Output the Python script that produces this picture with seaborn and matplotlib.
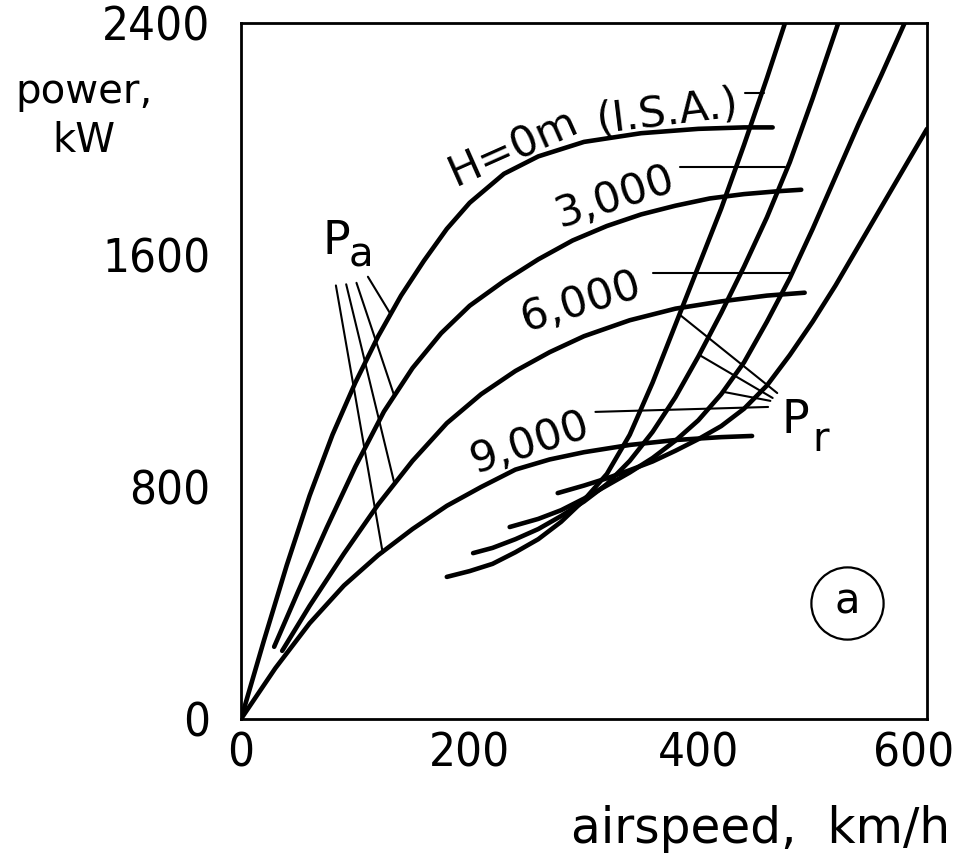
import matplotlib
matplotlib.use("Agg")
import matplotlib.pyplot as plt
import matplotlib.transforms as mtransforms
import pandas as pd
import seaborn as sns

# Available power P_a (kW) against airspeed (km/h), one curve per altitude
pa_0_v = [0, 20, 40, 60, 80, 100, 120, 140, 160, 180, 200, 230, 260, 300, 350, 400, 440, 465]
pa_0_p = [0, 270, 530, 770, 980, 1160, 1320, 1460, 1580, 1690, 1780, 1880, 1940, 1990, 2020, 2035, 2040, 2040]
pa_3000_v = [29, 50, 75, 100, 125, 150, 175, 200, 230, 260, 290, 320, 350, 380, 410, 440, 470, 490]
pa_3000_p = [249, 440, 660, 870, 1060, 1210, 1330, 1425, 1510, 1585, 1650, 1700, 1740, 1770, 1795, 1810, 1820, 1825]
pa_6000_v = [36, 60, 90, 120, 150, 180, 210, 240, 270, 300, 340, 380, 420, 460, 493]
pa_6000_p = [235, 390, 570, 740, 890, 1020, 1120, 1200, 1265, 1320, 1375, 1415, 1440, 1460, 1470]
pa_9000_v = [0, 30, 60, 90, 120, 150, 180, 210, 240, 270, 300, 340, 380, 420, 447]
pa_9000_p = [0, 175, 330, 460, 565, 655, 735, 800, 860, 895, 920, 945, 962, 972, 976]

# Required power P_r (kW) against airspeed (km/h), one curve per altitude
pr_0_v = [180, 200, 220, 240, 260, 280, 300, 320, 340, 360, 380, 400, 420, 440, 460, 480]
pr_0_p = [490, 510, 535, 575, 620, 680, 755, 845, 980, 1160, 1360, 1560, 1760, 1980, 2210, 2450]
pr_3000_v = [203, 220, 240, 260, 280, 300, 320, 340, 360, 380, 400, 420, 440, 460, 480, 500, 525]
pr_3000_p = [572, 590, 620, 655, 700, 750, 810, 890, 990, 1110, 1250, 1400, 1560, 1730, 1920, 2140, 2430]
pr_6000_v = [235, 260, 280, 300, 320, 340, 360, 380, 400, 420, 440, 460, 480, 500, 520, 540, 560, 585]
pr_6000_p = [662, 690, 720, 760, 805, 850, 900, 960, 1030, 1120, 1230, 1370, 1520, 1690, 1870, 2050, 2220, 2440]
pr_9000_v = [277, 300, 320, 340, 360, 380, 400, 420, 440, 460, 480, 500, 520, 540, 560, 580, 600]
pr_9000_p = [779, 805, 830, 858, 888, 925, 965, 1010, 1070, 1150, 1255, 1370, 1495, 1630, 1765, 1900, 2035]

# Leader lines: (v0, p0, v1, p1)
pa_leaders = [(83, 1495, 124, 572), (92, 1499, 134, 815), (101, 1504, 134, 1115), (111, 1525, 131, 1395)]
pr_leaders = [(385, 1390, 469, 1124), (401, 1255, 465, 1107), (422, 1128, 463, 1097)]
label_leaders = [(441, 2159, 457, 2159), (384, 1903, 476, 1903), (360, 1538, 483, 1538), (310, 1059, 461, 1076)]

altitude_labels = ["H=0m", "(I.S.A.)", "3,000", "6,000", "9,000"]

x_ticks = [0, 100, 200, 300, 400, 500, 600]
x_ticklabels = ["0", "", "200", "", "400", "", "600"]
y_ticks = [0, 400, 800, 1200, 1600, 2000, 2400]
y_ticklabels = ["0", "", "800", "", "1600", "", "2400"]

sns.set_theme(style="white")
plt.rcParams["font.family"] = ["DejaVu Sans"]
plt.rcParams["text.color"] = "black"

curves = pd.concat([
    pd.DataFrame({"v": v, "p": p, "curve": name})
    for name, v, p in [
        ("Pa 0", pa_0_v, pa_0_p), ("Pa 3000", pa_3000_v, pa_3000_p),
        ("Pa 6000", pa_6000_v, pa_6000_p), ("Pa 9000", pa_9000_v, pa_9000_p),
        ("Pr 0", pr_0_v, pr_0_p), ("Pr 3000", pr_3000_v, pr_3000_p),
        ("Pr 6000", pr_6000_v, pr_6000_p), ("Pr 9000", pr_9000_v, pr_9000_p),
    ]
], ignore_index=True)

segs = []
for i, (v0, p0, v1, p1) in enumerate(pa_leaders + pr_leaders + label_leaders):
    segs.append(pd.DataFrame({"v": [v0, v1], "p": [p0, p1], "seg": i}))
leaders = pd.concat(segs, ignore_index=True)

fig = plt.figure(figsize=(9.55, 8.58), dpi=100)
ax = fig.add_axes([241 / 955, 1 - 719 / 858, 686 / 955, 696 / 858])

sns.lineplot(data=curves, x="v", y="p", units="curve", estimator=None, sort=False,
             color="black", linewidth=3.3, ax=ax, legend=False)
sns.lineplot(data=leaders, x="v", y="p", units="seg", estimator=None, sort=False,
             color="black", linewidth=1.5, ax=ax, legend=False)

ax.set_xlim(0, 600)
ax.set_ylim(0, 2400)
ax.set_xticks(x_ticks)
ax.set_xticklabels(x_ticklabels, fontsize=34, fontstretch="condensed")
ax.set_yticks(y_ticks)
ax.set_yticklabels(y_ticklabels, fontsize=34, fontstretch="condensed")
ax.tick_params(axis="both", direction="in", length=8, width=1.8, colors="black")
ax.tick_params(axis="y", pad=22)
ax.tick_params(axis="x", pad=9)
ax.set_xlabel("")
ax.set_ylabel("")
for s in ax.spines.values():
    s.set_visible(True)
    s.set_color("black")
    s.set_linewidth(2.0)
ax.grid(False)

# The last speed label sits a little inside the right edge
last = ax.get_xticklabels()[-1]
last.set_transform(last.get_transform()
                   + mtransforms.ScaledTranslation(-0.13, 0, fig.dpi_scale_trans))

# Axis titles
fig.text(84 / 955, 1 - 103 / 858, "power,", ha="center", va="baseline", fontsize=29)
fig.text(84 / 955, 1 - 152 / 858, "kW", ha="center", va="baseline", fontsize=29)
fig.text(950 / 955, 1 - 843 / 858, "airspeed,  km/h", ha="right", va="baseline", fontsize=35)

# Curve labels
ax.text(238, 1969, altitude_labels[0], rotation=24, ha="center", va="center", fontsize=31)
ax.text(373, 2090, altitude_labels[1], rotation=7, ha="center", va="center", fontsize=31)
ax.text(327, 1800, altitude_labels[2], rotation=18, ha="center", va="center", fontsize=31)
ax.text(297, 1438, altitude_labels[3], rotation=17, ha="center", va="center", fontsize=31)
ax.text(252, 952, altitude_labels[4], rotation=18, ha="center", va="center", fontsize=31)

# P_a and P_r labels
ax.text(83, 1648, "P", ha="center", va="center", fontsize=33)
ax.text(105, 1598, "a", ha="center", va="center", fontsize=29)
ax.text(485, 1031, "P", ha="center", va="center", fontsize=33)
ax.text(507, 962, "r", ha="center", va="center", fontsize=29)

# Circled panel letter
ax.plot([530], [400], marker="o", markersize=52, markerfacecolor="none",
        markeredgecolor="black", markeredgewidth=1.6)
ax.text(530, 405, "a", ha="center", va="center", fontsize=30)

fig.savefig("out.png", dpi=100, facecolor="white")
